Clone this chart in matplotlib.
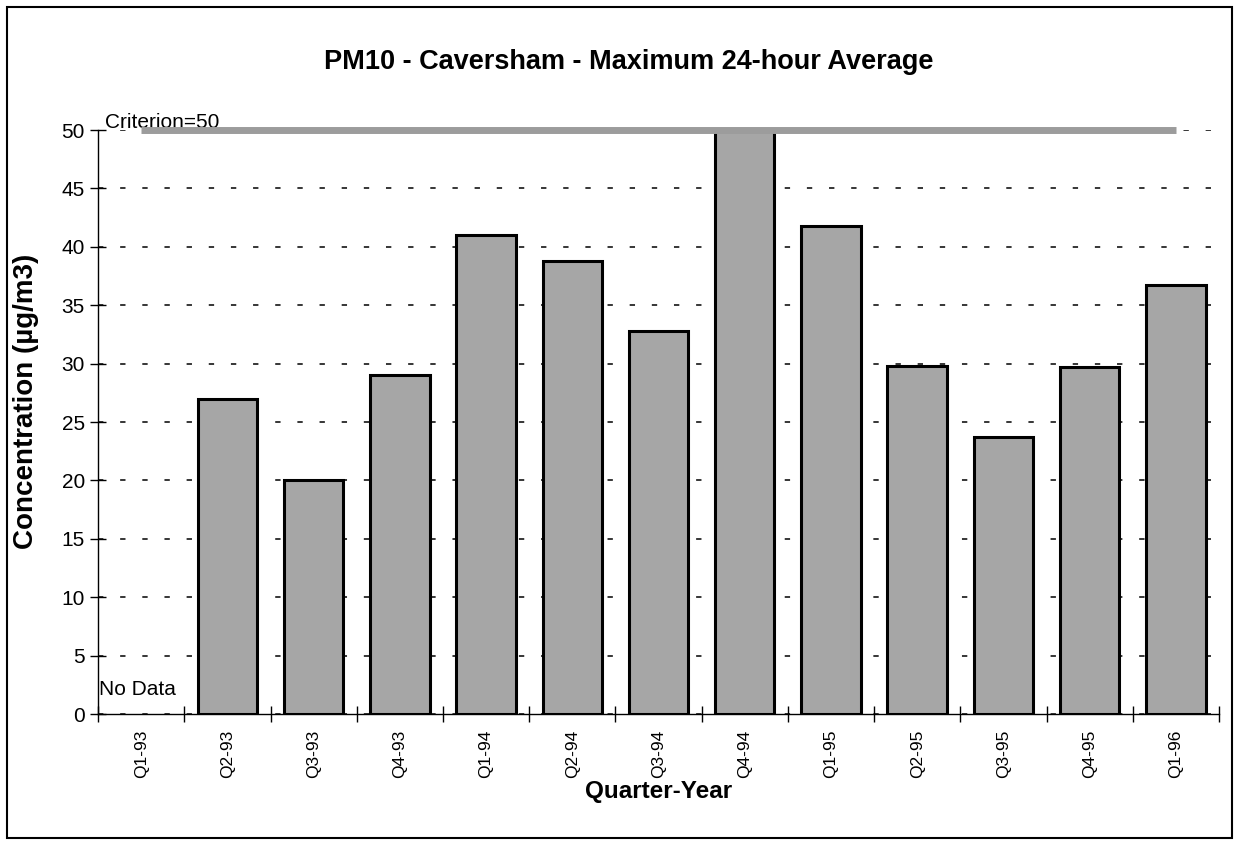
import numpy as np
import matplotlib
matplotlib.use('Agg')
import matplotlib.pyplot as plt
from matplotlib.patches import Rectangle

quarters = ['Q1-93', 'Q2-93', 'Q3-93', 'Q4-93', 'Q1-94', 'Q2-94', 'Q3-94',
            'Q4-94', 'Q1-95', 'Q2-95', 'Q3-95', 'Q4-95', 'Q1-96']
# Q1-93: no data
pm10 = [np.nan, 27, 20, 29, 41, 38.8, 32.8, 50, 41.8, 29.8, 23.7, 29.7, 36.7]
criterion = 50

plt.rcParams['font.family'] = ['Liberation Sans', 'DejaVu Sans']

fig = plt.figure(figsize=(12.35, 8.42), dpi=100)
ax = fig.add_axes([0.0794, 0.152, 0.9076, 0.6936])

x = np.arange(len(quarters))
ax.bar(x, pm10, width=0.69, color='#a6a6a6', edgecolor='black', linewidth=2.2, zorder=3)

# criterion line
ax.plot([x[0], x[-1]], [criterion, criterion], color='#9c9c9c', lw=5, zorder=4,
        clip_on=False, solid_capstyle='butt')
ax.text(-0.42, criterion + 0.15, 'Criterion=50', fontsize=15, ha='left', va='baseline')
ax.text(-0.49, 1.6, 'No Data', fontsize=15, ha='left', va='baseline')

ax.set_xlim(-0.5, len(quarters) - 0.5)
ax.set_ylim(0, 50)
ax.set_yticks(np.arange(0, 51, 5))
ax.yaxis.grid(True, color='black', lw=1.1, linestyle=(0, (3.5, 11)), zorder=1)
ax.set_axisbelow(True)

ax.set_xticks(x)
ax.set_xticklabels(quarters, rotation=90, fontsize=12.5)
ax.set_xticks(np.arange(-0.5, len(quarters), 1), minor=True)
ax.tick_params(axis='x', which='major', length=0, pad=11)
ax.tick_params(axis='x', which='minor', direction='inout', length=11, width=1)
ax.tick_params(axis='y', direction='inout', length=11, width=1, labelsize=15, pad=4)

for s in ['top', 'right']:
    ax.spines[s].set_visible(False)
ax.spines['left'].set_linewidth(1)
ax.spines['bottom'].set_linewidth(1)

ax.set_ylabel('Concentration (\u00b5g/m3)', fontsize=20, fontweight='bold')
ax.yaxis.set_label_coords(-0.053, 0.535)
ax.set_xlabel('Quarter-Year', fontsize=17.5, fontweight='bold')
ax.xaxis.set_label_coords(0.5, -0.113)
fig.text(0.509, 0.926, 'PM10 - Caversham - Maximum 24-hour Average', ha='center',
         va='center', fontsize=19.5, fontweight='bold')

fig.patches.append(Rectangle((7 / 1235, 4 / 842), 1225 / 1235, 831 / 842,
                             transform=fig.transFigure, fill=False,
                             edgecolor='black', lw=1.5))

fig.savefig('out.png', dpi=100)
